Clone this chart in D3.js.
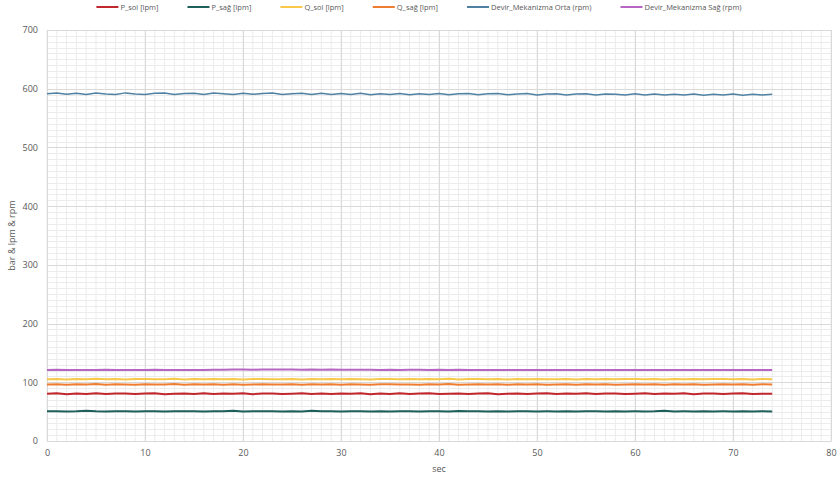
<!DOCTYPE html>
<html>
<head>
<meta charset="utf-8">
<script src="https://cdn.jsdelivr.net/npm/d3@7"></script>
<style>
  body { margin: 0; background: #fff; }
  svg { font-family: "Open Sans", "Liberation Sans", sans-serif; }
</style>
</head>
<body>
<div id="chart"></div>
<script>
// data (one sample per second)
var time = [0,1,2,3,4,5,6,7,8,9,10,11,12,13,14,
  15,16,17,18,19,20,21,22,23,24,25,26,27,28,29,
  30,31,32,33,34,35,36,37,38,39,40,41,42,43,44,
  45,46,47,48,49,50,51,52,53,54,55,56,57,58,59,
  60,61,62,63,64,65,66,67,68,69,70,71,72,73,74];

var pSol = [80.4,81.2,79.8,80.9,80.1,81.4,79.9,80.7,81.1,80.0,80.8,81.3,79.7,80.6,81.0,
  80.2,81.5,79.9,80.7,80.3,81.2,79.8,80.9,81.1,80.0,80.6,81.4,79.9,80.8,80.2,
  81.0,80.4,81.3,79.8,80.7,80.1,81.2,80.0,80.9,81.4,79.9,80.5,81.1,80.2,80.8,
  81.3,79.8,80.6,81.0,80.1,80.9,81.5,79.9,80.7,80.3,81.2,80.0,80.8,81.1,79.9,
  80.6,81.3,80.1,80.9,80.4,81.2,79.8,80.7,81.0,80.2,80.8,81.4,79.9,80.6,80.5];

var pSag = [50.5,50.7,50.4,50.6,51.6,50.5,50.3,50.6,50.8,50.4,50.5,50.7,50.4,50.6,50.5,
  50.8,50.4,50.6,50.5,51.4,50.3,50.6,50.5,50.7,50.4,50.6,50.3,51.5,50.5,50.6,
  50.4,50.7,50.5,50.3,50.6,50.4,50.5,50.7,50.3,50.6,50.5,50.4,51.3,50.6,50.5,
  50.4,50.6,50.3,50.5,50.7,50.4,50.5,50.3,50.6,50.4,50.5,50.7,50.3,50.6,50.4,
  50.5,50.3,50.6,51.4,50.4,50.5,50.3,50.6,50.4,50.5,50.3,50.6,50.4,50.5,50.4];

var qSol = [105.2,105.8,104.9,105.5,105.1,105.9,105.0,105.6,104.8,105.4,105.7,105.0,105.3,105.9,104.9,
  105.5,105.2,105.8,105.0,105.6,104.9,105.4,105.7,105.1,105.3,105.8,104.9,105.5,105.2,105.6,
  105.0,105.7,105.3,104.9,105.5,105.8,105.1,105.4,105.0,105.6,105.2,105.9,104.9,105.4,105.7,
  105.1,105.5,104.9,105.6,105.2,105.8,105.0,105.3,105.7,104.9,105.5,105.1,105.6,105.0,105.4,
  105.8,105.1,105.5,104.9,105.6,105.2,105.7,105.0,105.4,105.8,105.1,105.5,104.9,105.6,105.3];

var qSag = [96.3,96.8,95.9,96.5,96.1,96.9,96.0,96.6,96.2,95.8,96.7,96.1,96.4,96.9,95.9,
  96.5,96.2,96.8,96.0,96.6,95.9,96.4,96.7,96.1,96.3,96.8,95.9,96.5,96.2,96.6,
  96.0,96.7,96.3,95.9,96.5,96.8,96.1,96.4,96.0,96.6,96.2,96.9,95.9,96.4,96.7,
  96.1,96.5,95.9,96.6,96.2,96.8,96.0,96.3,96.7,95.9,96.5,96.1,96.6,96.0,96.4,
  96.8,96.1,96.5,95.9,96.6,96.2,96.7,96.0,96.4,96.8,96.1,96.5,95.9,96.6,96.3];

var devirOrta = [591.5,592.8,590.4,592.3,590.1,592.6,590.8,590.2,592.9,591.2,590.3,592.1,592.7,590.1,591.8,
  592.4,590.3,592.5,591.3,590.2,592.2,590.5,591.9,592.6,590.0,591.4,592.2,590.3,592.4,590.1,
  591.7,590.2,592.1,589.9,591.6,590.3,591.9,589.8,591.5,590.1,591.8,589.7,591.4,592.0,589.9,
  591.3,591.7,589.6,591.2,591.8,589.5,591.1,591.5,589.4,590.9,591.4,589.3,591.0,590.7,589.2,
  591.3,589.4,590.8,589.1,590.6,589.3,591.1,589.0,590.7,589.2,590.9,588.9,590.5,589.1,590.6];

var devirSag = [121.0,121.2,120.9,121.1,121.0,120.8,121.2,121.0,121.1,120.9,121.0,121.2,120.9,121.1,121.0,
  121.1,121.0,121.3,121.2,121.6,121.8,121.5,121.9,121.7,121.6,121.8,121.5,121.7,121.4,121.6,
  121.3,121.5,121.2,121.4,121.1,121.3,121.0,121.2,121.4,121.1,121.3,121.0,121.2,121.0,120.9,
  121.0,120.8,121.0,120.9,121.1,120.8,121.0,120.9,120.8,121.0,120.9,120.8,121.0,120.9,120.8,
  120.9,121.0,120.8,120.9,121.0,120.8,120.9,121.0,120.8,120.9,121.0,120.8,120.9,120.8,120.9];

var seriesNames = ["P_sol [lpm]", "P_sağ [lpm]", "Q_sol [lpm]", "Q_sağ [lpm]",
  "Devir_Mekanizma Orta (rpm)", "Devir_Mekanizma Sağ (rpm)"];
var seriesValues = [pSol, pSag, qSol, qSag, devirOrta, devirSag];
var seriesColors = ["#c0282d", "#1f5f5b", "#f7c84a", "#ee7d31", "#4f81a3", "#b566c0"];

var xTicks = [0,10,20,30,40,50,60,70,80];
var yTicks = [0,100,200,300,400,500,600,700];

var width = 838, height = 482;
var margin = {top: 30, right: 7, bottom: 41, left: 47};

var svg = d3.select("#chart").append("svg")
    .attr("width", width)
    .attr("height", height);

var x = d3.scaleLinear().domain([0, 80]).range([margin.left, width - margin.right]);
var y = d3.scaleLinear().domain([0, 700]).range([height - margin.bottom, margin.top]);

//minor grid
var grid = svg.append("g");
grid.selectAll(".xminor")
    .data(d3.range(0, 81, 1))
    .enter().append("line")
    .attr("x1", d => x(d)).attr("x2", d => x(d))
    .attr("y1", y(0)).attr("y2", y(700))
    .attr("stroke", "#ececec").attr("stroke-width", 1);
grid.selectAll(".yminor")
    .data(d3.range(0, 701, 10))
    .enter().append("line")
    .attr("x1", x(0)).attr("x2", x(80))
    .attr("y1", d => Math.round(y(d)) + 0.5).attr("y2", d => Math.round(y(d)) + 0.5)
    .attr("stroke", "#ececec").attr("stroke-width", 1);

//major grid
grid.selectAll(".xmajor")
    .data(xTicks)
    .enter().append("line")
    .attr("x1", d => Math.round(x(d)) + 0.5).attr("x2", d => Math.round(x(d)) + 0.5)
    .attr("y1", y(0)).attr("y2", y(700))
    .attr("stroke", "#d9d9d9").attr("stroke-width", 1);
grid.selectAll(".ymajor")
    .data(yTicks)
    .enter().append("line")
    .attr("x1", x(0)).attr("x2", x(80))
    .attr("y1", d => Math.round(y(d)) + 0.5).attr("y2", d => Math.round(y(d)) + 0.5)
    .attr("stroke", "#d9d9d9").attr("stroke-width", 1);

//axes
var xAxis = svg.append("g")
    .attr("transform", "translate(0," + y(0) + ")")
    .call(d3.axisBottom(x).tickValues(xTicks).tickSize(0).tickPadding(9));
var yAxis = svg.append("g")
    .attr("transform", "translate(" + x(0) + ",0)")
    .call(d3.axisLeft(y).tickValues(yTicks).tickSize(0).tickPadding(9));
[xAxis, yAxis].forEach(function(a) {
    a.select(".domain").attr("stroke", "#d9d9d9");
    a.selectAll("text").attr("fill", "#595959").attr("font-size", "9px")
        .attr("font-family", "\"Open Sans\", sans-serif");
});

//lines
var line = d3.line()
    .x((d, i) => x(time[i]))
    .y(d => y(d));

svg.append("g").selectAll("path")
    .data(seriesValues)
    .enter().append("path")
    .attr("d", d => line(d))
    .attr("fill", "none")
    .attr("stroke", (d, i) => seriesColors[i])
    .attr("stroke-width", (d, i) => i == 4 ? 1.5 : 2);

//axis titles
svg.append("text")
    .attr("x", x(40)).attr("y", 472)
    .attr("text-anchor", "middle")
    .attr("fill", "#595959").attr("font-size", "9px")
    .text("sec");
svg.append("text")
    .attr("transform", "translate(15," + y(350) + ") rotate(-90)")
    .attr("text-anchor", "middle")
    .attr("fill", "#595959").attr("font-size", "9px")
    .text("bar & lpm & rpm");

//legend
var legend = svg.append("g").attr("class", "legend");
var items = legend.selectAll("g")
    .data(seriesNames)
    .enter().append("g");
items.append("line")
    .attr("x1", 0).attr("x2", 22)
    .attr("y1", 0).attr("y2", 0)
    .attr("stroke", (d, i) => seriesColors[i])
    .attr("stroke-width", 2);
items.append("text")
    .attr("x", 24).attr("y", 3)
    .attr("fill", "#595959").attr("font-size", "7.5px")
    .text(d => d);

var pos = 0;
items.each(function() {
    var w = this.getBBox().width;
    d3.select(this).attr("transform", "translate(" + pos + ",7)");
    pos += w + 29;
});
var total = pos - 29;
legend.attr("transform", "translate(" + (width / 2 - total / 2) + ",0)");
</script>
</body>
</html>
